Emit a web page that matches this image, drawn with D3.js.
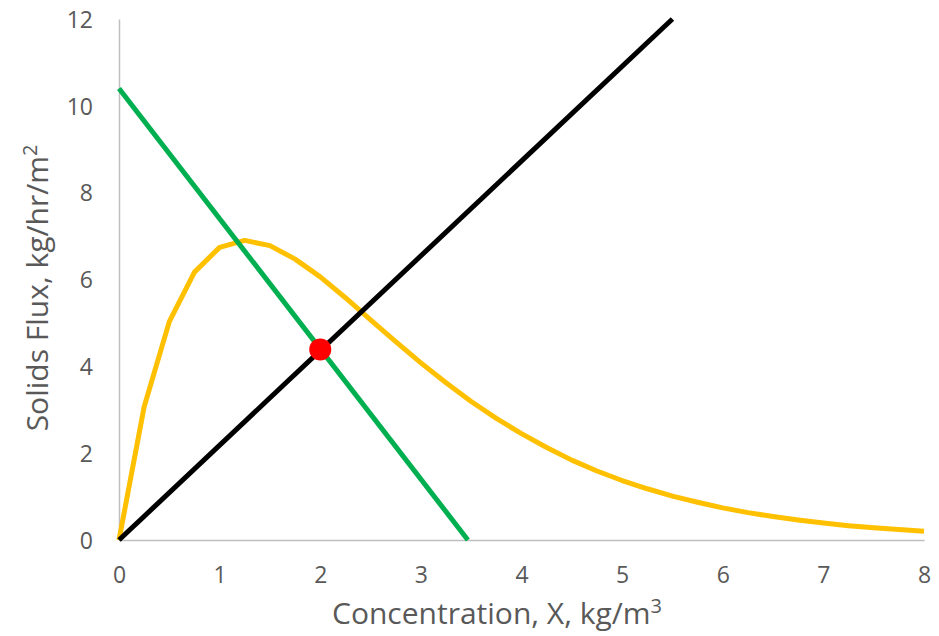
<!DOCTYPE html>
<html>
<head>
<meta charset="utf-8">
<script src="https://cdn.jsdelivr.net/npm/d3@7"></script>
<style>
  body { margin: 0; background: #fff; }
  text { font-family: "Open Sans", sans-serif; fill: #595959; }
</style>
</head>
<body>
<div id="chart"></div>
<script>
// settling flux curve (step 0.25)
const fluxX = [0, 0.25, 0.5, 0.75, 1, 1.25, 1.5, 1.75, 2, 2.25, 2.5, 2.75, 3, 3.25, 3.5, 3.75,
  4, 4.25, 4.5, 4.75, 5, 5.25, 5.5, 5.75, 6, 6.25, 6.5, 6.75, 7, 7.25, 7.5, 7.75, 8];
const fluxY = [0, 3.07, 5.03, 6.17, 6.74, 6.9, 6.78, 6.47, 6.06, 5.58, 5.07, 4.57, 4.08, 3.62, 3.19, 2.8,
  2.45, 2.13, 1.84, 1.59, 1.37, 1.18, 1.01, 0.87, 0.74, 0.63, 0.54, 0.46, 0.39, 0.33, 0.28, 0.24, 0.2];

// underflow operating line (green)
const greenX = [0, 3.467];
const greenY = [10.4, 0];

// overflow line (black)
const blackX = [0, 5.5];
const blackY = [0, 12];

// operating point
const pointX = [2];
const pointY = [4.39];

const xTicks = [0, 1, 2, 3, 4, 5, 6, 7, 8];
const yTicks = [0, 2, 4, 6, 8, 10, 12];

const width = 939, height = 636;
const margin = { left: 119, right: 15, top: 19, bottom: 96 };

const svg = d3.select("#chart").append("svg")
  .attr("width", width)
  .attr("height", height);

const x = d3.scaleLinear().domain([0, 8]).range([margin.left, width - margin.right]);
const y = d3.scaleLinear().domain([0, 12]).range([height - margin.bottom, margin.top]);

// axes
const xAxis = svg.append("g")
  .attr("transform", `translate(0,${y(0)})`)
  .call(d3.axisBottom(x).tickValues(xTicks).tickSize(0).tickPadding(0));
xAxis.select(".domain").attr("stroke", "#bfbfbf").attr("stroke-width", 1.5);
xAxis.selectAll("text")
  .attr("y", 43)
  .attr("dy", null)
  .attr("font-size", 23)
  .style("font-family", "Open Sans")
  .attr("fill", "#595959");

const yAxis = svg.append("g")
  .attr("transform", `translate(${x(0)},0)`)
  .call(d3.axisLeft(y).tickValues(yTicks).tickSize(0).tickPadding(0));
yAxis.select(".domain").attr("stroke", "#bfbfbf").attr("stroke-width", 1.5);
yAxis.selectAll("text")
  .attr("x", -26)
  .attr("dy", "0.36em")
  .attr("font-size", 23)
  .style("font-family", "Open Sans")
  .attr("fill", "#595959");

// axis titles
const xt = svg.append("text")
  .attr("x", 497)
  .attr("y", 624)
  .attr("text-anchor", "middle")
  .attr("font-size", 30);
xt.append("tspan").text("Concentration, X, kg/m");
xt.append("tspan").attr("dy", -11).attr("font-size", 20).text("3");

const yt = svg.append("text")
  .attr("transform", "translate(48,288) rotate(-90)")
  .attr("text-anchor", "middle")
  .attr("font-size", 30);
yt.append("tspan").text("Solids Flux, kg/hr/m");
yt.append("tspan").attr("dy", -11).attr("font-size", 20).text("2");

const line = d3.line().x(d => x(d[0])).y(d => y(d[1]));
const g = svg.append("g");

g.append("path")
  .datum(fluxX.map((v, i) => [v, fluxY[i]]))
  .attr("d", line)
  .attr("fill", "none")
  .attr("stroke", "#ffc000")
  .attr("stroke-width", 5)
  .attr("stroke-linejoin", "round");

g.append("path")
  .datum(greenX.map((v, i) => [v, greenY[i]]))
  .attr("d", line)
  .attr("fill", "none")
  .attr("stroke", "#00b050")
  .attr("stroke-width", 5);

g.append("path")
  .datum(blackX.map((v, i) => [v, blackY[i]]))
  .attr("d", line)
  .attr("fill", "none")
  .attr("stroke", "#000")
  .attr("stroke-width", 5);

g.selectAll("circle")
  .data(pointX.map((v, i) => [v, pointY[i]]))
  .join("circle")
  .attr("cx", d => x(d[0]))
  .attr("cy", d => y(d[1]))
  .attr("r", 11)
  .attr("fill", "#ff0000");
</script>
</body>
</html>
